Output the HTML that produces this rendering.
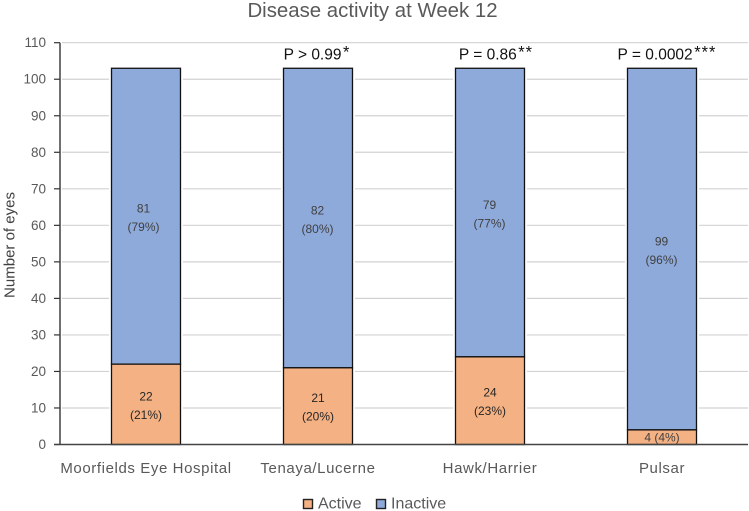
<!DOCTYPE html>
<html lang="en">
<head>
<meta charset="utf-8">
<title>Disease activity at Week 12</title>
<style>
html,body{margin:0;padding:0;background:#fff;width:749px;height:511px;overflow:hidden}
svg{display:block;font-family:"Liberation Sans",sans-serif}
</style>
</head>
<body>
<svg id="chart" width="749" height="511" viewBox="0 0 749 511" xmlns="http://www.w3.org/2000/svg"></svg>
<script>
const categories = ['Moorfields Eye Hospital', 'Tenaya/Lucerne', 'Hawk/Harrier', 'Pulsar'];
const activeValues = [22, 21, 24, 4];
const inactiveValues = [81, 82, 79, 99];
const activePercents = [21, 20, 23, 4];
const inactivePercents = [79, 80, 77, 96];
const pLabels = ['', 'P > 0.99', 'P = 0.86', 'P = 0.0002'];
const pStars = ['', '*', '**', '***'];
const yTicks = [0, 10, 20, 30, 40, 50, 60, 70, 80, 90, 100, 110];

const svg = document.getElementById('chart');
const NS = 'http://www.w3.org/2000/svg';
const plotLeft = 60, plotRight = 748, plotTop = 42.7, plotBottom = 444.5;
const yMax = 110;
const barWidth = 69;
function y(v) { return plotBottom - (v / yMax) * (plotBottom - plotTop); }
function x(i) { return plotLeft + (plotRight - plotLeft) * (i + 0.5) / categories.length; }
function pOffset(i) { return i === 1 ? -1 : i === 2 ? 6 : i === 3 ? 5 : 0; }
function mk(tag, attrs, text) {
  const el = document.createElementNS(NS, tag);
  for (const k in attrs) el.setAttribute(k, attrs[k]);
  if (text !== undefined) el.textContent = text;
  svg.appendChild(el);
  return el;
}

const title = mk('text', {x: 372.5, y: 17, 'text-anchor': 'middle', 'font-size': 20.4, fill: '#595959'}, 'Disease activity at Week 12');



yTicks.forEach(function (t) {
  if (t > 0) {
    const g = mk('line', {x1: plotLeft + 2, x2: plotRight, y1: y(t), y2: y(t), stroke: '#d2d2d2', 'stroke-width': 1.2});
    
    
  }
  const tick = mk('line', {x1: plotLeft - 6, x2: plotLeft, y1: y(t), y2: y(t), stroke: '#333', 'stroke-width': 1.2});
  
  
  const lab = mk('text', {x: 46, y: y(t) + 4.5, 'text-anchor': 'end', 'font-size': 13.5, fill: '#595959'}, String(t));
  
  
});

const yTitle = mk('text', {transform: 'translate(14.5,245) rotate(-90)', 'text-anchor': 'middle', 'font-size': 15, fill: '#404040'}, 'Number of eyes');



categories.forEach(function (c, i) {
  const cx = x(i);
  const left = cx - barWidth / 2;
  const a = activeValues[i], b = inactiveValues[i];

  const halo = mk('rect', {x: left - 2.5, y: y(a + b) - 2, width: barWidth + 5, height: y(0) - y(a + b) + 2, fill: '#fff'});
  
  

  const inactive = mk('rect', {x: left, y: y(a + b), width: barWidth, height: y(a) - y(a + b), fill: '#8eaadb', stroke: '#111', 'stroke-width': 1.3});
  
  

  const active = mk('rect', {x: left, y: y(a), width: barWidth, height: y(0) - y(a), fill: '#f4b183', stroke: '#111', 'stroke-width': 1.3});
  
  

  const midB = y(a + b / 2);
  const lx = i === 0 ? cx - 2.5 : cx - 0.5;
  const l1 = mk('text', {x: lx, y: midB - 3.5, 'text-anchor': 'middle', 'font-size': 12, fill: '#404040'}, String(b));
  
  
  const l2 = mk('text', {x: lx, y: midB + 15, 'text-anchor': 'middle', 'font-size': 12, fill: '#404040'}, '(' + inactivePercents[i] + '%)');
  
  

  const midA = y(a / 2);
  if (a < 8) {
    const l = mk('text', {x: cx, y: midA + 4.5, 'text-anchor': 'middle', 'font-size': 12, fill: '#404040'}, a + ' (' + activePercents[i] + '%)');
    
    
  } else {
    const l3 = mk('text', {x: cx, y: midA - 4, 'text-anchor': 'middle', 'font-size': 12, fill: '#262626'}, String(a));
    
    
    const l4 = mk('text', {x: cx, y: midA + 14.5, 'text-anchor': 'middle', 'font-size': 12, fill: '#262626'}, '(' + activePercents[i] + '%)');
    
    
  }

  const cat = mk('text', {x: cx, y: 473, 'text-anchor': 'middle', 'font-size': 15, 'letter-spacing': 0.6, fill: '#595959'}, c);
  
  

  if (pLabels[i]) {
    const p = mk('text', {x: cx + pOffset(i), y: 59.5, 'text-anchor': 'middle', 'font-size': 15.5, fill: '#111'}, pLabels[i]);
    
    
    const stars = document.createElementNS(NS, 'tspan');
    stars.setAttribute('dx', '1.5');
    stars.setAttribute('dy', '-2');
    stars.setAttribute('font-size', '16.5');
    stars.setAttribute('letter-spacing', '1');
    
    
    stars.textContent = pStars[i];
    p.appendChild(stars);
  }
});

const yAxis = mk('line', {x1: plotLeft, x2: plotLeft, y1: plotTop, y2: plotBottom, stroke: '#333', 'stroke-width': 1.4});


const xAxis = mk('line', {x1: plotLeft - 6, x2: plotRight, y1: plotBottom, y2: plotBottom, stroke: '#444', 'stroke-width': 1.4});



const swA = mk('rect', {x: 303.5, y: 499.5, width: 9, height: 9, fill: '#f4b183', stroke: '#222', 'stroke-width': 1.4});


const lgA = mk('text', {x: 318, y: 508.5, 'font-size': 16, fill: '#595959'}, 'Active');


const swB = mk('rect', {x: 376.5, y: 499.5, width: 9, height: 9, fill: '#8eaadb', stroke: '#222', 'stroke-width': 1.4});


const lgB = mk('text', {x: 391, y: 508.5, 'font-size': 16, fill: '#595959'}, 'Inactive');


</script>
</body>
</html>
